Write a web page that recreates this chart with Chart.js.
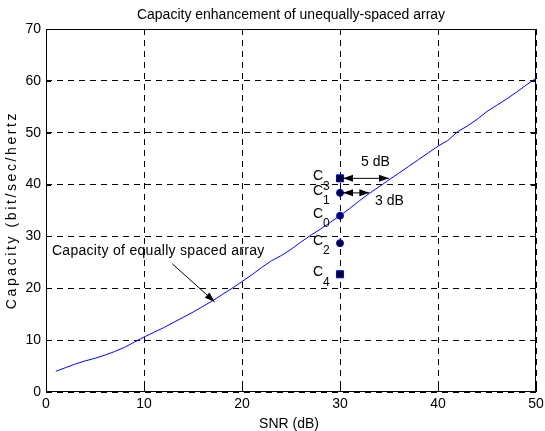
<!DOCTYPE html>
<html>
<head>
<meta charset="utf-8">
<script src="https://cdn.jsdelivr.net/npm/chart.js@4.4.1/dist/chart.umd.min.js"></script>
<style>
  html, body { margin: 0; padding: 0; background: #fff; }
  #wrap { width: 545px; height: 431px; }
</style>
</head>
<body>
<div id="wrap"><canvas id="myChart" width="545" height="431"></canvas></div>
<script>
// SNR (dB) and capacity of the equally spaced array
const snr = [1,2,3,4,5,6,7,8,9,10,11,12,13,14,15,16,17,18,19,20,21,22,23,24,25,
  26,27,28,29,30,31,32,33,34,35,36,37,38,39,40,41,42,43,44,45,46,47,48,49,50];
const capacity = [4.0,4.7,5.4,6.0,6.5,7.1,7.8,8.6,9.6,10.6,11.5,12.4,13.4,14.4,15.4,
  16.5,17.6,18.8,20.0,21.3,22.6,24.0,25.3,26.3,27.5,28.9,30.2,31.4,32.7,34.0,
  35.4,36.9,38.3,39.6,40.9,42.2,43.5,44.8,46.1,47.4,48.5,50.2,51.3,52.6,54.1,
  55.3,56.5,57.8,59.2,60.5];

// unequally spaced array points, all at 30 dB
const markerSnr = 30;
const circleNames = ['0', '1', '2'];
const circleCapacity = [34.0, 38.4, 28.7];
const squareNames = ['3', '4'];
const squareCapacity = [41.2, 22.7];

// SNR gains marked with arrows (C3 -> 5 dB, C1 -> 3 dB)
const gainDb = [5, 3];
const gainCapacity = [41.2, 38.4];

const xTicks = [0, 10, 20, 30, 40, 50];
const yTicks = [0, 10, 20, 30, 40, 50, 60, 70];

const FONT = '"Liberation Sans", Arial, sans-serif';

function arrowHead(ctx, x0, y0, x1, y1, len, half) {
  const a = Math.atan2(y1 - y0, x1 - x0);
  ctx.beginPath();
  ctx.moveTo(x1, y1);
  ctx.lineTo(x1 - len * Math.cos(a) + half * Math.sin(a), y1 - len * Math.sin(a) - half * Math.cos(a));
  ctx.lineTo(x1 - len * Math.cos(a) - half * Math.sin(a), y1 - len * Math.sin(a) + half * Math.cos(a));
  ctx.closePath();
  ctx.fill();
}

const matlabLook = {
  id: 'matlabLook',
  afterDraw(chart) {
    const ctx = chart.ctx, a = chart.chartArea;
    const xs = chart.scales.x, ys = chart.scales.y;
    ctx.save();
    // frame
    ctx.strokeStyle = '#000';
    ctx.lineWidth = 1;
    ctx.setLineDash([]);
    ctx.strokeRect(Math.round(a.left) + 0.5, Math.round(a.top) + 0.5,
      Math.round(a.right - a.left) - 1, Math.round(a.bottom - a.top) - 1);
    // inner ticks
    ctx.beginPath();
    xTicks.forEach(v => {
      const px = Math.round(xs.getPixelForValue(v)) + 0.5;
      ctx.moveTo(px, a.bottom); ctx.lineTo(px, a.bottom - 5);
      ctx.moveTo(px, a.top); ctx.lineTo(px, a.top + 5);
    });
    yTicks.forEach(v => {
      const py = Math.round(ys.getPixelForValue(v)) + 0.5;
      ctx.moveTo(a.left, py); ctx.lineTo(a.left + 5, py);
      ctx.moveTo(a.right, py); ctx.lineTo(a.right - 5, py);
    });
    ctx.stroke();

    // title and axis titles
    ctx.fillStyle = '#000';
    ctx.font = '14px ' + FONT;
    ctx.textAlign = 'center';
    ctx.textBaseline = 'middle';
    ctx.fillText('Capacity enhancement of unequally-spaced array', 291, 15);
    ctx.fillText('SNR (dB)', 289, 424);
    ctx.save();
    ctx.translate(12, 210);
    ctx.rotate(-Math.PI / 2);
    ctx.letterSpacing = '2.6px';
    ctx.fillText('Capacity (bit/sec/hertz', 0, 0);
    ctx.restore();

    // C labels
    const px30 = xs.getPixelForValue(markerSnr);
    const names = circleNames.concat(squareNames);
    const caps = circleCapacity.concat(squareCapacity);
    ctx.textAlign = 'left';
    names.forEach((n, i) => {
      const py = ys.getPixelForValue(caps[i]);
      ctx.font = '14px ' + FONT;
      ctx.fillText('C', px30 - 27, py - 2);
      ctx.font = '12px ' + FONT;
      ctx.fillText(n, px30 - 17, py + 8);
    });

    // gain arrows
    ctx.lineWidth = 1;
    gainDb.forEach((g, i) => {
      const y = ys.getPixelForValue(gainCapacity[i]);
      const x0 = px30 + 3, x1 = xs.getPixelForValue(markerSnr + g);
      ctx.beginPath(); ctx.moveTo(x0, y); ctx.lineTo(x1, y); ctx.stroke();
      arrowHead(ctx, x1, y, x0, y, 10, 3.5);
      arrowHead(ctx, x0, y, x1, y, 10, 3.5);
    });
    ctx.font = '14px ' + FONT;
    const y5 = ys.getPixelForValue(gainCapacity[0]);
    const y3 = ys.getPixelForValue(gainCapacity[1]);
    ctx.fillText(gainDb[0] + ' dB', px30 + 21, y5 - 16);
    ctx.fillText(gainDb[1] + ' dB', px30 + 35, y3 + 8);

    // curve annotation
    ctx.letterSpacing = '0.3px';
    ctx.fillText('Capacity of equally spaced array', xs.getPixelForValue(0.6), ys.getPixelForValue(27.2));
    ctx.letterSpacing = '0px';
    const ax0 = xs.getPixelForValue(12.9), ay0 = ys.getPixelForValue(24.7);
    const ax1 = xs.getPixelForValue(17.2), ay1 = ys.getPixelForValue(17.4);
    ctx.beginPath(); ctx.moveTo(ax0, ay0); ctx.lineTo(ax1, ay1); ctx.stroke();
    arrowHead(ctx, ax0, ay0, ax1, ay1, 10, 3.5);
    ctx.restore();
  }
};

const Chart1 = document.getElementById('myChart');

const data = {
  datasets: [
    {
      label: 'equally spaced',
      data: snr.map((s, i) => ({ x: s, y: capacity[i] })),
      showLine: true,
      borderColor: '#0000ff',
      borderWidth: 1,
      pointRadius: 0,
      tension: 0
    },
    {
      label: 'circles',
      data: circleCapacity.map(c => ({ x: markerSnr, y: c })),
      pointStyle: 'circle',
      pointRadius: 3.5,
      backgroundColor: '#000022',
      borderColor: '#0000ff',
      borderWidth: 1
    },
    {
      label: 'squares',
      data: squareCapacity.map(c => ({ x: markerSnr, y: c })),
      pointStyle: 'rect',
      pointRadius: 5,
      backgroundColor: '#000022',
      borderColor: '#0000ff',
      borderWidth: 1
    }
  ]
};

const config = {
  type: 'scatter',
  data,
  options: {
    responsive: false,
    animation: false,
    layout: { padding: { top: 29, right: 9, left: 0, bottom: 0 } },
    plugins: { legend: { display: false }, tooltip: { enabled: false } },
    scales: {
      x: {
        min: 0, max: 50,
        afterFit: s => { s.height = 39; s.paddingLeft = 0; s.paddingRight = 0; },
        ticks: { stepSize: 10, color: '#000', padding: 4, font: { size: 14, family: FONT } },
        grid: { color: '#000', lineWidth: 1, drawTicks: false },
        border: { display: false, dash: [6, 5] }
      },
      y: {
        min: 0, max: 70,
        afterFit: s => { s.width = 46; s.paddingTop = 0; s.paddingBottom = 0; },
        ticks: { stepSize: 10, color: '#000', padding: 5, font: { size: 14, family: FONT } },
        grid: { color: '#000', lineWidth: 1, drawTicks: false },
        border: { display: false, dash: [6, 5] }
      }
    }
  },
  plugins: [matlabLook]
};

let myChart = new Chart(Chart1, config);
</script>
</body>
</html>
